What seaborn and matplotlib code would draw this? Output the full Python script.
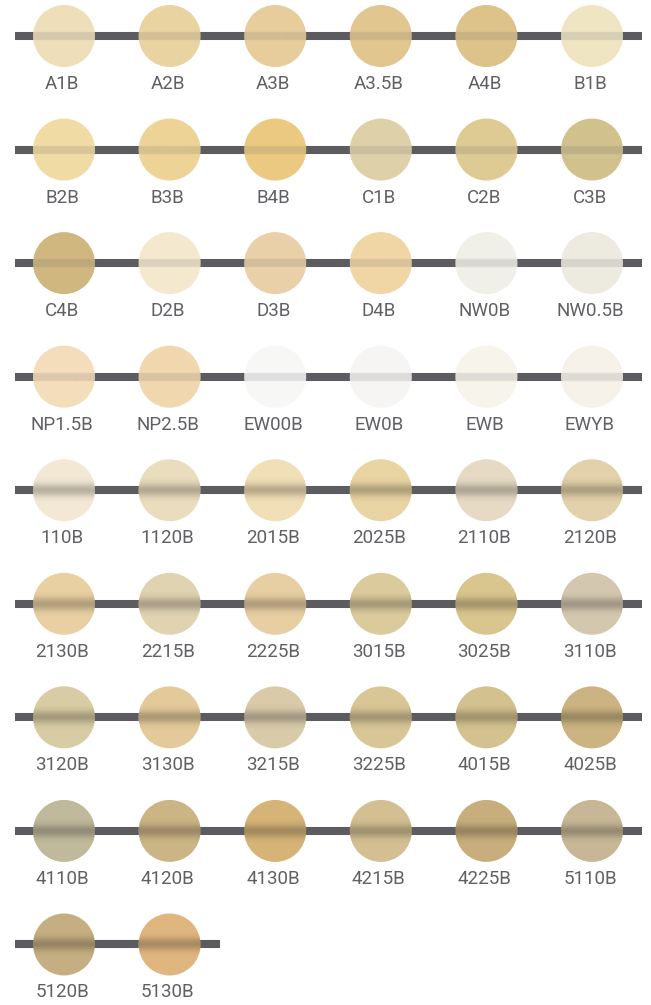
import numpy as np
import pandas as pd
import matplotlib
matplotlib.use("Agg")
import matplotlib.pyplot as plt
from matplotlib.patches import Circle
from matplotlib.colors import to_rgb
import seaborn as sns

# ---------------- data ----------------
shade_labels = [
    "A1B", "A2B", "A3B", "A3.5B", "A4B", "B1B",
    "B2B", "B3B", "B4B", "C1B", "C2B", "C3B",
    "C4B", "D2B", "D3B", "D4B", "NW0B", "NW0.5B",
    "NP1.5B", "NP2.5B", "EW00B", "EW0B", "EWB", "EWYB",
    "110B", "1120B", "2015B", "2025B", "2110B", "2120B",
    "2130B", "2215B", "2225B", "3015B", "3025B", "3110B",
    "3120B", "3130B", "3215B", "3225B", "4015B", "4025B",
    "4110B", "4120B", "4130B", "4215B", "4225B", "5110B",
    "5120B", "5130B",
]
shade_colors = [
    "#EEDEBA", "#E9D3A0", "#E7CD9B", "#E1C68F", "#DDC28A", "#EFE5C3",
    "#F0DBA4", "#EDD395", "#EBC981", "#DED1A9", "#DECA93", "#D1C28D",
    "#CFB77F", "#F4E9CE", "#E9D0A8", "#F0D6A4", "#F0EFE8", "#EDEAE0",
    "#F4DDBB", "#F1D7AE", "#F7F7F6", "#F6F5F3", "#F7F4EC", "#F6F2E9",
    "#F2E8D4", "#EADDBE", "#F1DFB7", "#E9D4A3", "#E6DAC4", "#E2D1AA",
    "#E8D0A2", "#DFD3B2", "#E8CFA3", "#DACA9C", "#D9C58E", "#D3C7AF",
    "#D7CCA3", "#E4C99B", "#D9CAAA", "#D8C697", "#D3C290", "#CBB481",
    "#C0B99C", "#CBB585", "#D6B478", "#D3BF91", "#C8AE7C", "#C7B796",
    "#C5AF82", "#E0B67F",
]
# band style: "flat" for the classic shades, "soft" for the bleach gradient shades
shade_band = ["flat"] * 24 + ["soft"] * 26

# ---------------- layout (pixels) ----------------
W, H = 651, 1005
NCOL = 6
X0, DX = 64.0, 105.6
Y0, DY = 36.0, 113.56
R = 31.0
BAR_COLOR = "#5B5B60"
TEXT_COLOR = "#606064"

df = pd.DataFrame({"label": shade_labels, "color": shade_colors, "band": shade_band})
df["col"] = np.arange(len(df)) % NCOL
df["row"] = np.arange(len(df)) // NCOL
df["x"] = X0 + DX * df["col"]
df["y"] = Y0 + DY * df["row"]

sns.set_theme(style="white")
plt.rcParams["font.family"] = ["Roboto", "DejaVu Sans"]

fig = plt.figure(figsize=(W / 100, H / 100), dpi=100)
ax = fig.add_axes([0, 0, 1, 1])
ax.set_xlim(0, W)
ax.set_ylim(H, 0)
ax.axis("off")

# horizontal bars behind each row
for r, g in df.groupby("row"):
    ax.hlines(g["y"].iloc[0], g["x"].min() - 49, g["x"].max() + 50,
              color=BAR_COLOR, linewidth=5.8, zorder=1)

# circles
palette = dict(zip(df["label"], df["color"]))
diam_pt = 2 * R * 72 / 100
sns.scatterplot(data=df, x="x", y="y", hue="label", palette=palette,
                s=diam_pt ** 2, linewidth=0, legend=False, ax=ax, zorder=2)

# band overlays, clipped to each circle
N = 124
yy = np.linspace(-R, R, N)
for _, p in df.iterrows():
    arr = np.zeros((N, 1, 4))
    if p["band"] == "flat":
        arr[..., :3] = to_rgb(BAR_COLOR)
        arr[:, 0, 3] = np.where(np.abs(yy) <= 4.0, 0.16, 0.0)
    else:
        arr[..., :3] = 0.0
        arr[:, 0, 3] = 0.24 * np.exp(-0.5 * (yy / 4.6) ** 2)
    im = ax.imshow(arr, extent=[p["x"] - R, p["x"] + R, p["y"] + R, p["y"] - R],
                   interpolation="bilinear", aspect="auto", zorder=3)
    im.set_clip_path(Circle((p["x"], p["y"]), R, transform=ax.transData))
    ax.text(p["x"] - 2, p["y"] + 53, p["label"], ha="center", va="baseline",
            fontsize=13.5, color=TEXT_COLOR, fontweight="normal", zorder=4)

ax.set_xlim(0, W)
ax.set_ylim(H, 0)
fig.savefig("out.png", dpi=100)
